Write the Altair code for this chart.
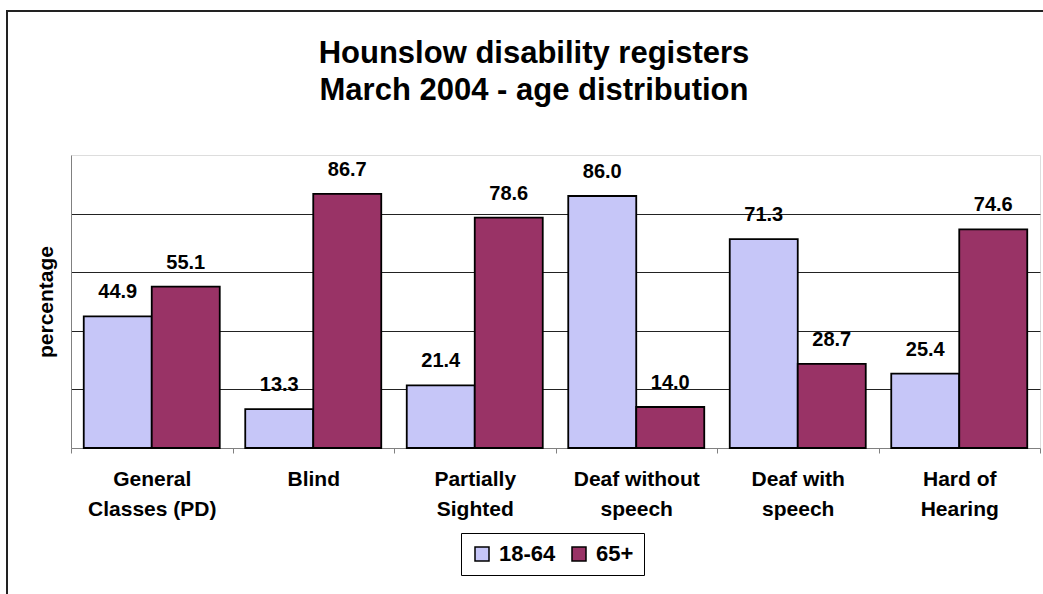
import altair as alt
import pandas as pd

# Hounslow disability registers, March 2004: share of each register by age band
title_lines = ["Hounslow disability registers", "March 2004 - age distribution"]
categories = [
    "General\nClasses (PD)",
    "Blind",
    "Partially\nSighted",
    "Deaf without\nspeech",
    "Deaf with\nspeech",
    "Hard of\nHearing",
]
series = ["18-64", "65+"]
pct_18_64 = [44.9, 13.3, 21.4, 86.0, 71.3, 25.4]
pct_65_plus = [55.1, 86.7, 78.6, 14.0, 28.7, 74.6]
colors = ["#c6c6f8", "#993366"]

rows = []
for cat, a, b in zip(categories, pct_18_64, pct_65_plus):
    rows.append({"category": cat, "series": series[0], "value": a})
    rows.append({"category": cat, "series": series[1], "value": b})
df = pd.DataFrame(rows)

FONT = "Liberation Sans"

x_enc = alt.X(
    "category:N",
    sort=categories,
    scale=alt.Scale(paddingInner=0, paddingOuter=0),
    axis=alt.Axis(
        title=None,
        tickBand="extent",
        ticks=True,
        tickSize=5,
        tickColor="#808080",
        domainColor="#808080",
        labelAngle=0,
        labelFont=FONT,
        labelFontSize=21,
        labelFontWeight="bold",
        labelColor="black",
        labelPadding=15,
        labelLineHeight=30,
        labelBaseline="top",
        labelExpr="split(datum.label, '\\n')",
    ),
)
xoff_enc = alt.XOffset(
    "series:N",
    sort=series,
    scale=alt.Scale(paddingInner=0, paddingOuter=0.1875),
)
y_enc = alt.Y(
    "value:Q",
    scale=alt.Scale(domain=[0, 100], nice=False),
    axis=alt.Axis(
        title="percentage",
        titleFont=FONT,
        titleFontSize=21,
        titleFontWeight="bold",
        titleColor="black",
        titlePadding=15,
        labels=False,
        ticks=False,
        values=[20, 40, 60, 80],
        grid=True,
        gridColor="#222222",
        gridWidth=1,
        domainColor="#808080",
    ),
)

bars = alt.Chart(df).mark_bar(stroke="black", strokeWidth=1.8).encode(
    x=x_enc,
    xOffset=xoff_enc,
    y=y_enc,
    color=alt.Color(
        "series:N",
        sort=series,
        scale=alt.Scale(domain=series, range=colors),
        legend=alt.Legend(
            title=None,
            orient="none",
            legendX=390,
            legendY=378,
            direction="horizontal",
            symbolType="square",
            symbolSize=196,
            symbolStrokeColor="black",
            symbolStrokeWidth=1.5,
            labelFont=FONT,
            labelFontSize=22,
            labelFontWeight="bold",
            labelColor="black",
            labelOffset=6,
            columnPadding=12,
            padding=10,
            strokeColor="black",
            fillColor="white",
        ),
    ),
)

labels = alt.Chart(df).mark_text(
    font=FONT,
    fontSize=20,
    fontWeight="bold",
    color="black",
    baseline="alphabetic",
    dy=-18,
).encode(
    x=alt.X("category:N", sort=categories),
    xOffset=alt.XOffset("series:N", sort=series),
    y=alt.Y("value:Q"),
    text=alt.Text("value:Q", format=".1f"),
)

# two-line heading, centred on the chart area
heading = alt.Chart(pd.DataFrame({"t": ["\n".join(title_lines)]})).mark_text(
    font=FONT,
    fontSize=31,
    fontWeight="bold",
    color="black",
    align="center",
    baseline="alphabetic",
    lineBreak="\n",
    lineHeight=37,
).encode(
    x=alt.value(463),
    y=alt.value(-92),
    text="t:N",
)

# outer chart-area frame
frame = alt.Chart(pd.DataFrame({"k": [0]})).mark_rect(
    fill=None, stroke="#222222", strokeWidth=2
).encode(
    x=alt.value(-64),
    x2=alt.value(990),
    y=alt.value(-144),
    y2=alt.value(460),
)

chart = (
    alt.layer(frame, bars, labels, heading)
    .properties(
        width=969,
        height=293,
        autosize=alt.AutoSizeParams(type="none"),
        padding={"left": 71, "top": 155, "right": 3, "bottom": 146},
    )
    .configure_view(stroke="#808080", strokeWidth=1.5)
    .configure(background="white")
)

chart.save("out.html", embed_options={"renderer": "svg", "actions": False})
